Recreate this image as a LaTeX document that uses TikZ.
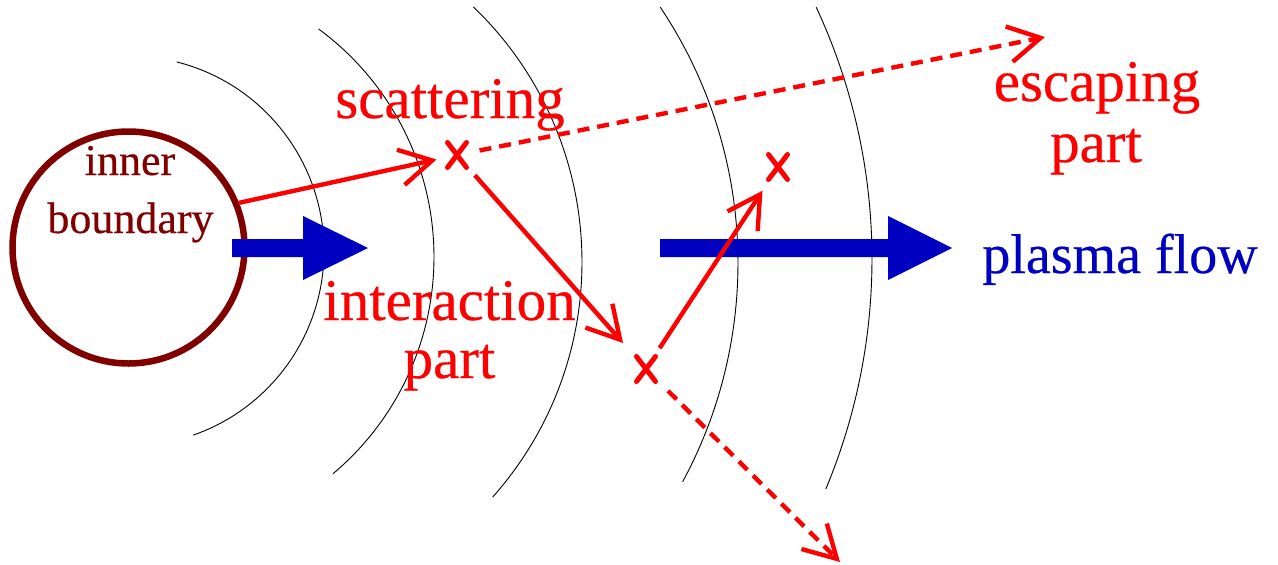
\documentclass[tikz,border=0pt]{standalone}
\usepackage{fontspec}
\setmainfont{Liberation Serif}[FakeBold=0.4]
\usetikzlibrary{arrows.meta}
\definecolor{maroonc}{RGB}{128,0,0}
\definecolor{flowblue}{RGB}{0,0,192}
\tikzset{
  shell/.style={line width=0.9pt, draw=black},
  ray/.style={draw=red, line width=4.4pt, -{Straight Barb[length=32pt,width=36pt]}},
  escape/.style={ray, dash pattern=on 12pt off 8pt},
  pics/xcross/.style={code={\draw[red, line width=5pt, line cap=round] (-9.5,12.5) -- (9.5,-12.5) (-9.5,-12.5) -- (9.5,12.5);}},
  flowarrow/.style={fill=flowblue, draw=none},
  redlabel/.style={text=red, anchor=base, inner sep=0pt, font=\fontsize{59}{61}\selectfont},
  bluelabel/.style={text=flowblue, anchor=base, inner sep=0pt, font=\fontsize{56}{60}\selectfont},
  innerlabel/.style={text=maroonc, anchor=base, inner sep=0pt, font=\fontsize{44}{50}\selectfont}
}
\begin{document}
\begin{tikzpicture}[x=1pt,y=1pt]
\useasboundingbox (0,0) rectangle (1278,-565);
% shells
\draw[shell] (129,-251) ++(75.8:195pt) arc[start angle=75.8, end angle=-70.8, radius=195pt];
\draw[shell] (151,-257) ++(53.7:283pt) arc[start angle=53.7, end angle=-50.0, radius=283pt];
\draw[shell] (228,-262) ++(46.1:354pt) arc[start angle=46.1, end angle=-41.6, radius=354pt];
\draw[shell] (278,-263) ++(33.8:460pt) arc[start angle=33.8, end angle=-28.4, radius=460pt];
\draw[shell] (276,-259) ++(25.0:596pt) arc[start angle=25.0, end angle=-22.7, radius=596pt];
% inner boundary
\node[circle, draw=maroonc, line width=6.5pt, minimum size=232pt, inner sep=0pt] (inner) at (128.5,-247.5) {};
\node[innerlabel] (lin1) at (130,-175) {inner};
\node[innerlabel] (lin2) at (130.5,-233) {boundary};
% plasma flow arrows
\fill[flowarrow] (232,-239) -- (303,-239) -- (303,-216) -- (368,-248) -- (303,-280) -- (303,-257) -- (232,-257) -- cycle;
\fill[flowarrow] (660,-239) -- (888,-239) -- (888,-216) -- (952,-248) -- (888,-280) -- (888,-257) -- (660,-257) -- cycle;
% scattering points
\coordinate (s1) at (457,-155);
\coordinate (s2) at (778,-167);
\coordinate (s3) at (646,-369);
\pic at (s1) {xcross};
\pic at (s2) {xcross};
\pic at (s3) {xcross};
\coordinate (e1) at (1045,-37);
\coordinate (e2) at (840,-562);
% rays
\draw[ray, shorten >=21pt] (inner.22) -- (s1);
\draw[ray, shorten <=27pt, shorten >=34.7pt] (s1) -- (s3);
\draw[ray, shorten <=25pt, shorten >=28.3pt] (s3) -- (s2);
\draw[escape, shorten <=23pt] (s1) -- (e1);
\draw[escape, shorten <=31pt] (s3) -- (e2);
% labels
\node[redlabel] (lsc) at (450,-118) {scattering};
\node[redlabel] (lint1) at (449.5,-320) {interaction};
\node[redlabel] (lint2) at (449.5,-378) {part};
\node[redlabel] (lesc1) at (1097,-101) {escaping};
\node[redlabel] (lesc2) at (1096,-162) {part};
\node[bluelabel] (lpf) at (1120,-273) {plasma flow};
\end{tikzpicture}
\end{document}
